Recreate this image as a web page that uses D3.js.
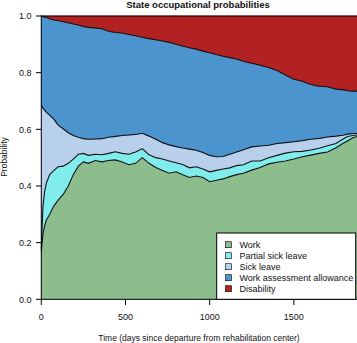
<!DOCTYPE html>
<html>
<head>
<meta charset="utf-8">
<script src="https://cdn.jsdelivr.net/npm/d3@7"></script>
<style>
  body { margin: 0; background: #fff; }
  svg { display: block; font-family: "Liberation Sans", Arial, sans-serif; }
</style>
</head>
<body>
<div id="chart"></div>
<script>
// time grid (days) and cumulative upper bound of each state
const days = [0, 10, 20, 30, 50, 75, 100, 130, 160, 190, 220, 250, 280, 320, 360, 400, 440, 480, 520, 560,
  600, 640, 680, 720, 760, 800, 840, 880, 920, 960, 1000, 1040, 1080, 1120, 1160, 1200, 1250, 1300, 1350,
  1400, 1450, 1500, 1550, 1600, 1650, 1700, 1750, 1790, 1820, 1850, 1875];

const workTop = [0.17, 0.23, 0.26, 0.28, 0.30, 0.33, 0.35, 0.37, 0.40, 0.44, 0.47, 0.485, 0.48, 0.49, 0.485,
  0.49, 0.492, 0.485, 0.475, 0.48, 0.50, 0.48, 0.465, 0.455, 0.445, 0.45, 0.44, 0.43, 0.435, 0.43, 0.415,
  0.42, 0.425, 0.433, 0.44, 0.445, 0.456, 0.465, 0.478, 0.484, 0.488, 0.495, 0.503, 0.509, 0.515, 0.52,
  0.535, 0.55, 0.56, 0.57, 0.575];

const partialTop = [0.18, 0.33, 0.38, 0.41, 0.44, 0.455, 0.468, 0.47, 0.48, 0.495, 0.512, 0.515, 0.508, 0.512,
  0.51, 0.515, 0.521, 0.515, 0.512, 0.52, 0.532, 0.51, 0.50, 0.495, 0.488, 0.482, 0.476, 0.464, 0.468, 0.46,
  0.45, 0.455, 0.46, 0.464, 0.472, 0.475, 0.488, 0.488, 0.50, 0.508, 0.516, 0.521, 0.522, 0.527, 0.533,
  0.542, 0.55, 0.565, 0.575, 0.578, 0.58];

const sickTop = [0.685, 0.675, 0.668, 0.66, 0.65, 0.635, 0.615, 0.602, 0.588, 0.578, 0.572, 0.567, 0.565, 0.566,
  0.567, 0.572, 0.575, 0.578, 0.58, 0.582, 0.586, 0.576, 0.565, 0.553, 0.545, 0.539, 0.534, 0.53, 0.526, 0.518,
  0.508, 0.503, 0.504, 0.512, 0.52, 0.528, 0.538, 0.541, 0.544, 0.55, 0.553, 0.556, 0.56, 0.565, 0.568,
  0.573, 0.576, 0.579, 0.583, 0.585, 0.585];

const waaTop = [1.0, 0.998, 0.996, 0.995, 0.99, 0.986, 0.984, 0.98, 0.976, 0.972, 0.968, 0.963, 0.96, 0.958,
  0.955, 0.946, 0.942, 0.94, 0.935, 0.93, 0.925, 0.92, 0.916, 0.912, 0.907, 0.90, 0.894, 0.888, 0.883, 0.876,
  0.87, 0.864, 0.858, 0.853, 0.848, 0.84, 0.833, 0.826, 0.818, 0.808, 0.792, 0.777, 0.77, 0.758, 0.752,
  0.75, 0.742, 0.74, 0.736, 0.735, 0.735];

const disTop = days.map(() => 1.0);

const states = ["Work", "Partial sick leave", "Sick leave", "Work assessment allowance", "Disability"];
const colors = ["#8dbd8c", "#80ecec", "#b9d0ec", "#4b94cd", "#b22222"];
const xTicks = [0, 500, 1000, 1500];
const yTicks = [0, 0.2, 0.4, 0.6, 0.8, 1.0];

const width = 357, height = 343;
const svg = d3.select("#chart").append("svg")
  .attr("width", width)
  .attr("height", height);

const x = d3.scaleLinear().domain([0, 1875]).range([41.3, 357]);
const y = d3.scaleLinear().domain([0, 1]).range([299.3, 16]);

// bands: lower / upper bound for each state
const bounds = [days.map(() => 0), workTop, partialTop, sickTop, waaTop, disTop];

const plot = svg.append("g");
states.forEach((s, i) => {
  const area = d3.area()
    .x((d, j) => x(days[j]))
    .y0((d, j) => y(bounds[i][j]))
    .y1((d, j) => y(bounds[i + 1][j]));
  plot.append("path")
    .datum(days)
    .attr("d", area)
    .attr("fill", colors[i])
    .attr("stroke", colors[i])
    .attr("stroke-width", 0.5);
});

// black boundary lines
[workTop, partialTop, sickTop, waaTop].forEach(b => {
  const line = d3.line()
    .x((d, j) => x(days[j]))
    .y((d, j) => y(b[j]));
  plot.append("path")
    .datum(days)
    .attr("d", line)
    .attr("fill", "none")
    .attr("stroke", "#111")
    .attr("stroke-width", 1.1);
});

// box
svg.append("rect")
  .attr("x", 41.3).attr("y", 16)
  .attr("width", 330).attr("height", 283.3)
  .attr("fill", "none").attr("stroke", "#000").attr("stroke-width", 1);

// y axis
const yAxis = svg.append("g");
yTicks.forEach(t => {
  yAxis.append("line")
    .attr("x1", 36).attr("x2", 41.3)
    .attr("y1", y(t)).attr("y2", y(t))
    .attr("stroke", "#000");
  yAxis.append("text")
    .attr("x", 31.5).attr("y", y(t) + 3.2)
    .attr("text-anchor", "end")
    .attr("font-size", 9)
    .attr("fill", "#111")
    .text(t.toFixed(1));
});

// x axis
const xAxis = svg.append("g");
xTicks.forEach(t => {
  xAxis.append("line")
    .attr("x1", x(t)).attr("x2", x(t))
    .attr("y1", 299.3).attr("y2", 305)
    .attr("stroke", "#000");
  xAxis.append("text")
    .attr("x", x(t)).attr("y", 319.5)
    .attr("text-anchor", "middle")
    .attr("font-size", 9)
    .attr("fill", "#111")
    .text(t);
});

svg.append("text")
  .attr("x", 199).attr("y", 340.5)
  .attr("text-anchor", "middle")
  .attr("font-size", 8.5)
  .attr("fill", "#111")
  .text("Time (days since departure from rehabilitation center)");

svg.append("text")
  .attr("transform", "translate(7,157) rotate(-90)")
  .attr("text-anchor", "middle")
  .attr("font-size", 8.5)
  .attr("fill", "#111")
  .text("Probability");

svg.append("text")
  .attr("x", 198).attr("y", 8)
  .attr("text-anchor", "middle")
  .attr("font-size", 9.5)
  .attr("font-weight", "bold")
  .attr("fill", "#111")
  .text("State occupational probabilities");

// legend
const lg = svg.append("g");
lg.append("rect")
  .attr("x", 216.7).attr("y", 233)
  .attr("width", 139).attr("height", 66.3)
  .attr("fill", "#fff").attr("stroke", "#000").attr("stroke-width", 1);
states.forEach((s, i) => {
  const cy = 244.7 + i * 11;
  lg.append("rect")
    .attr("x", 225.5).attr("y", cy - 3)
    .attr("width", 6).attr("height", 6)
    .attr("fill", colors[i]).attr("stroke", "#000").attr("stroke-width", 0.6);
  lg.append("text")
    .attr("x", 239.5).attr("y", cy + 3.2)
    .attr("font-size", 9)
    .attr("fill", "#111")
    .text(s);
});
</script>
</body>
</html>
